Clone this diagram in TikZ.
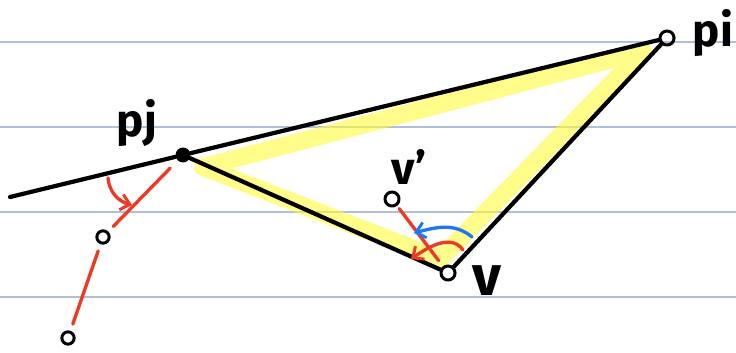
\documentclass[tikz,border=0pt]{standalone}
\usepackage{fontspec}
\setsansfont{Fira Sans}
\usetikzlibrary{arrows.meta}

\definecolor{ruleblue}{RGB}{176,192,216}
\definecolor{penred}{RGB}{236,58,36}
\definecolor{penblue}{RGB}{30,120,245}
\definecolor{marker}{RGB}{255,250,60}

\begin{document}
\begin{tikzpicture}[x=0.02cm,y=-0.02cm,line cap=round,line join=round]
    \tikzset{
      rule/.style={ruleblue,line width=0.7pt},
      edge/.style={black,line width=2.4pt},
      ring/.style={circle,draw,line width=1.7pt,minimum size=8pt,inner sep=0pt},
      bead/.style={circle,fill,minimum size=8.5pt,inner sep=0pt},
      pen/.style={penred,line width=1.9pt},
      turn/.style={line width=1.9pt,-{Straight Barb[length=5pt,width=9pt,line width=1.7pt]}},
      lbl/.style={font=\sffamily\bfseries\fontsize{26}{30}\selectfont,inner sep=0pt}
    }
    \useasboundingbox (0,0) rectangle (736,352);
    \fill[white] (0,0) rectangle (736,352);
    % notebook lines
    \foreach \y in {42,127,212,297}
      \draw[rule] (0,\y) -- (736,\y);
    % highlight
    \draw[marker,opacity=0.6,line width=10pt] (203,167) -- (643,51) -- (440,259) -- cycle;
    % points
    \node[bead] (pj) at (183,155) {};
    \node[ring] (pi) at (667,38) {};
    \node[ring] (v) at (448,273) {};
    \node[ring] (vp) at (392,199) {};
    \node[ring,minimum size=7pt] (q1) at (103,237) {};
    \node[ring,minimum size=7pt] (q2) at (68,338) {};
    \coordinate (far) at (10,197);
    % labels
    \node[lbl] (lpj) at (137,123) {pj};
    \node[lbl] (lpi) at (713,33) {pi};
    \node[lbl,font=\sffamily\bfseries\fontsize{32}{36}\selectfont] (lv) at (487,281) {v};
    \node[lbl] (lvp) at (409,167) {v'};
    % triangle and support line
    \draw[edge] (far) -- (pj) -- (pi) -- (v) -- (pj);
    % red chain
    \draw[pen,shorten <=6pt,shorten >=4pt] (pj) -- (q1);
    \draw[pen,shorten <=4pt,shorten >=4pt] (q1) -- (q2);
    \draw[pen,shorten <=2pt,shorten >=4pt] (vp) -- (v);
    % turning arrows
    \coordinate (a1) at (108,178);
    \coordinate (a2) at (132,205);
    \draw[turn,penred] (a1) to[out=-85,in=165] (a2);
    \coordinate (b1) at (463,250);
    \coordinate (b2) at (411,259);
    \draw[turn,penred] (b1) to[out=125,in=35] (b2);
    \coordinate (c1) at (472,237);
    \coordinate (c2) at (414,233);
    \draw[turn,penblue] (c1) to[out=140,in=15] (c2);
\end{tikzpicture}
\end{document}
